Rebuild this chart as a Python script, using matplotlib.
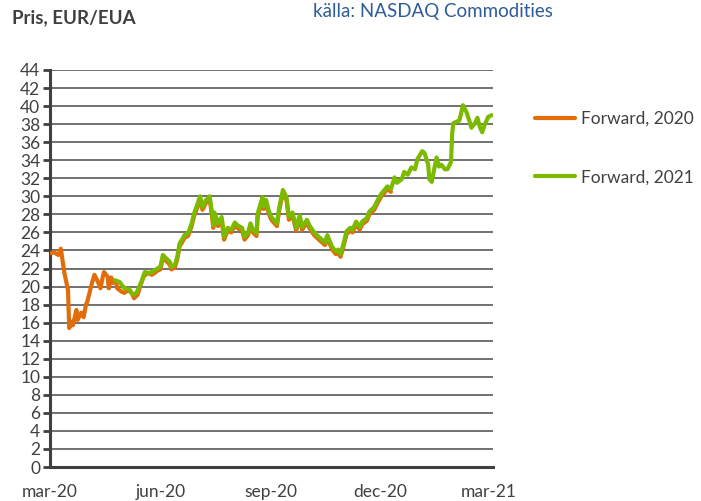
import matplotlib
matplotlib.use("Agg")
import matplotlib.pyplot as plt
import pandas as pd

plt.rcParams["font.family"] = ["Lato", "DejaVu Sans"]

# ---- data ----
fwd2020_dates = [
    "2020-03-02", "2020-03-04", "2020-03-08", "2020-03-10", "2020-03-13", "2020-03-16",
    "2020-03-17", "2020-03-19", "2020-03-20", "2020-03-23", "2020-03-24", "2020-03-27",
    "2020-03-29", "2020-03-31", "2020-04-01", "2020-04-05", "2020-04-07", "2020-04-10",
    "2020-04-12", "2020-04-14", "2020-04-15", "2020-04-18", "2020-04-19", "2020-04-21",
    "2020-04-22", "2020-04-25", "2020-04-26", "2020-04-30", "2020-05-02", "2020-05-05",
    "2020-05-08", "2020-05-10", "2020-05-13", "2020-05-15", "2020-05-18", "2020-05-21",
    "2020-05-25", "2020-05-30", "2020-06-01", "2020-06-03", "2020-06-06", "2020-06-09",
    "2020-06-10", "2020-06-13", "2020-06-15", "2020-06-17", "2020-06-19", "2020-06-21",
    "2020-06-24", "2020-06-27", "2020-06-29", "2020-07-02", "2020-07-04", "2020-07-06",
    "2020-07-09", "2020-07-12", "2020-07-14", "2020-07-15", "2020-07-16", "2020-07-19",
    "2020-07-22", "2020-07-24", "2020-07-27", "2020-07-30", "2020-08-02", "2020-08-04",
    "2020-08-08", "2020-08-10", "2020-08-13", "2020-08-15", "2020-08-17", "2020-08-20",
    "2020-08-21", "2020-08-25", "2020-08-26", "2020-08-28", "2020-08-30", "2020-09-01",
    "2020-09-02", "2020-09-06", "2020-09-08", "2020-09-11", "2020-09-14", "2020-09-16",
    "2020-09-19", "2020-09-22", "2020-09-25", "2020-09-27", "2020-10-01", "2020-10-03",
    "2020-10-07", "2020-10-11", "2020-10-16", "2020-10-18", "2020-10-22", "2020-10-25",
    "2020-10-27", "2020-10-29", "2020-10-31", "2020-11-03", "2020-11-06", "2020-11-08",
    "2020-11-11", "2020-11-14", "2020-11-16", "2020-11-20", "2020-11-22", "2020-11-26",
    "2020-11-29", "2020-12-02", "2020-12-04", "2020-12-07", "2020-12-10",
]
fwd2020_vals = [
    23.7, 23.8, 23.5, 24.2, 21.5, 19.6,
    15.4, 16.1, 15.7, 17.4, 16.3, 17.1,
    16.6, 18.0, 18.3, 20.4, 21.3, 20.5,
    19.8, 21.1, 21.6, 21.1, 19.8, 21.0,
    20.4, 20.5, 19.8, 19.4, 19.3, 19.6,
    19.3, 18.7, 19.1, 20.0, 21.1, 21.5,
    21.3, 21.8, 21.9, 23.2, 22.8, 22.4,
    21.9, 22.1, 23.0, 24.5, 24.9, 25.4,
    25.6, 26.7, 27.8, 28.9, 29.7, 28.5,
    29.3, 29.7, 27.8, 26.5, 27.9, 26.7,
    27.4, 25.2, 26.2, 26.0, 26.8, 26.5,
    26.2, 25.2, 25.7, 26.7, 26.0, 25.6,
    27.8, 29.6, 28.6, 29.3, 28.2, 27.5,
    27.3, 26.7, 28.5, 30.4, 29.6, 27.4,
    27.9, 26.2, 27.6, 26.3, 27.1, 26.5,
    25.7, 25.2, 24.6, 25.4, 24.1, 23.6,
    23.8, 23.3, 24.2, 25.8, 26.2, 26.0,
    26.9, 26.3, 26.9, 27.3, 28.0, 28.5,
    29.3, 30.0, 30.3, 30.8, 30.5,
]

fwd2021_dates = [
    "2020-04-24", "2020-04-28", "2020-05-02", "2020-05-06", "2020-05-09", "2020-05-12",
    "2020-05-16", "2020-05-19", "2020-05-23", "2020-05-27", "2020-06-01", "2020-06-03",
    "2020-06-06", "2020-06-09", "2020-06-10", "2020-06-13", "2020-06-15", "2020-06-17",
    "2020-06-19", "2020-06-21", "2020-06-24", "2020-06-27", "2020-06-29", "2020-07-02",
    "2020-07-04", "2020-07-06", "2020-07-09", "2020-07-12", "2020-07-14", "2020-07-15",
    "2020-07-16", "2020-07-19", "2020-07-22", "2020-07-24", "2020-07-27", "2020-07-30",
    "2020-08-02", "2020-08-04", "2020-08-08", "2020-08-10", "2020-08-13", "2020-08-15",
    "2020-08-17", "2020-08-20", "2020-08-21", "2020-08-25", "2020-08-26", "2020-08-28",
    "2020-08-30", "2020-09-01", "2020-09-02", "2020-09-06", "2020-09-08", "2020-09-11",
    "2020-09-14", "2020-09-16", "2020-09-19", "2020-09-22", "2020-09-25", "2020-09-27",
    "2020-10-01", "2020-10-03", "2020-10-07", "2020-10-11", "2020-10-16", "2020-10-18",
    "2020-10-22", "2020-10-25", "2020-10-27", "2020-10-29", "2020-10-31", "2020-11-03",
    "2020-11-06", "2020-11-08", "2020-11-11", "2020-11-14", "2020-11-16", "2020-11-20",
    "2020-11-22", "2020-11-26", "2020-11-29", "2020-12-02", "2020-12-04", "2020-12-07",
    "2020-12-10", "2020-12-13", "2020-12-15", "2020-12-19", "2020-12-21", "2020-12-24",
    "2020-12-27", "2020-12-30", "2021-01-01", "2021-01-05", "2021-01-07", "2021-01-10",
    "2021-01-11", "2021-01-13", "2021-01-15", "2021-01-17", "2021-01-19", "2021-01-21",
    "2021-01-24", "2021-01-26", "2021-01-29", "2021-01-30", "2021-01-31", "2021-02-03",
    "2021-02-05", "2021-02-08", "2021-02-11", "2021-02-14", "2021-02-15", "2021-02-18",
    "2021-02-20", "2021-02-22", "2021-02-24", "2021-02-26", "2021-03-01", "2021-03-04",
]
fwd2021_vals = [
    20.7, 20.5, 19.8, 19.7, 19.1, 19.3,
    20.5, 21.6, 21.5, 21.8, 22.2, 23.5,
    23.1, 22.7, 22.2, 22.4, 23.3, 24.8,
    25.2, 25.7, 25.9, 27.0, 28.1, 29.2,
    30.0, 28.8, 29.6, 30.0, 28.1, 26.8,
    28.2, 27.0, 27.7, 25.5, 26.5, 26.3,
    27.1, 26.8, 26.5, 25.5, 26.0, 27.0,
    26.3, 25.9, 28.1, 29.9, 28.9, 29.6,
    28.5, 27.8, 27.6, 27.0, 28.8, 30.7,
    29.9, 27.7, 28.2, 26.5, 27.9, 26.6,
    27.4, 26.8, 26.0, 25.5, 24.9, 25.7,
    24.4, 23.9, 24.1, 23.6, 24.5, 26.1,
    26.5, 26.3, 27.2, 26.6, 27.2, 27.6,
    28.3, 28.8, 29.6, 30.3, 30.6, 31.1,
    30.8, 32.1, 31.5, 31.9, 32.7, 32.4,
    33.2, 33.0, 34.1, 35.0, 34.8, 33.5,
    31.9, 31.6, 33.0, 34.3, 33.3, 33.5,
    33.0, 33.0, 33.8, 37.0, 38.1, 38.3,
    38.4, 40.1, 39.3, 38.1, 37.6, 38.1,
    38.7, 37.7, 37.1, 37.9, 38.8, 39.0,
]

series_labels = ["Forward, 2020", "Forward, 2021"]
series_colors = ["#E26B0A", "#7CBA00"]
x_tick_dates = ["2020-03-01", "2020-06-01", "2020-09-01", "2020-12-01", "2021-03-01"]
x_tick_labels = ["mar-20", "jun-20", "sep-20", "dec-20", "mar-21"]
y_ticks = list(range(0, 45, 2))

fig = plt.figure(figsize=(7.01, 5.01), dpi=100)
ax = fig.add_axes([50 / 701, 1 - 467 / 501, 443 / 701, 397 / 501])

ax.plot(pd.to_datetime(fwd2020_dates), fwd2020_vals, color=series_colors[0], lw=3,
        solid_joinstyle="round", solid_capstyle="round", label=series_labels[0], zorder=3)
ax.plot(pd.to_datetime(fwd2021_dates), fwd2021_vals, color=series_colors[1], lw=3,
        solid_joinstyle="round", solid_capstyle="round", label=series_labels[1], zorder=4)

ax.set_xlim(pd.Timestamp("2020-03-01"), pd.Timestamp("2021-03-05"))
ax.set_ylim(0, 44)
ax.set_yticks(y_ticks)
ax.set_xticks(pd.to_datetime(x_tick_dates))
ax.set_xticklabels(x_tick_labels)

ax.grid(axis="y", color="#666666", lw=1.3)
ax.set_axisbelow(True)
for s in ["top", "right"]:
    ax.spines[s].set_visible(False)
for s in ["left", "bottom"]:
    ax.spines[s].set_color("#404040")
    ax.spines[s].set_linewidth(2.2)
ax.tick_params(axis="y", length=5, width=2, color="#404040", labelsize=12.5,
               labelcolor="#404040", pad=2)
ax.tick_params(axis="x", length=0, labelsize=12.5, labelcolor="#404040", pad=12)

fig.text(12 / 701, 1 - 18 / 501, "Pris, EUR/EUA", fontsize=13.5, fontweight="bold",
         color="#404040", va="center", ha="left")
fig.text(313 / 701, 1 - 12 / 501, "källa: NASDAQ Commodities", fontsize=13.5,
         color="#2E5C97", va="center", ha="left")

fig.legend(loc="upper left", bbox_to_anchor=(526 / 701, 1 - 102 / 501), frameon=False,
           fontsize=12.5, labelspacing=2.45, handlelength=2.3, handletextpad=0.35,
           borderpad=0, labelcolor="#404040")

fig.savefig("out.png", dpi=100)
